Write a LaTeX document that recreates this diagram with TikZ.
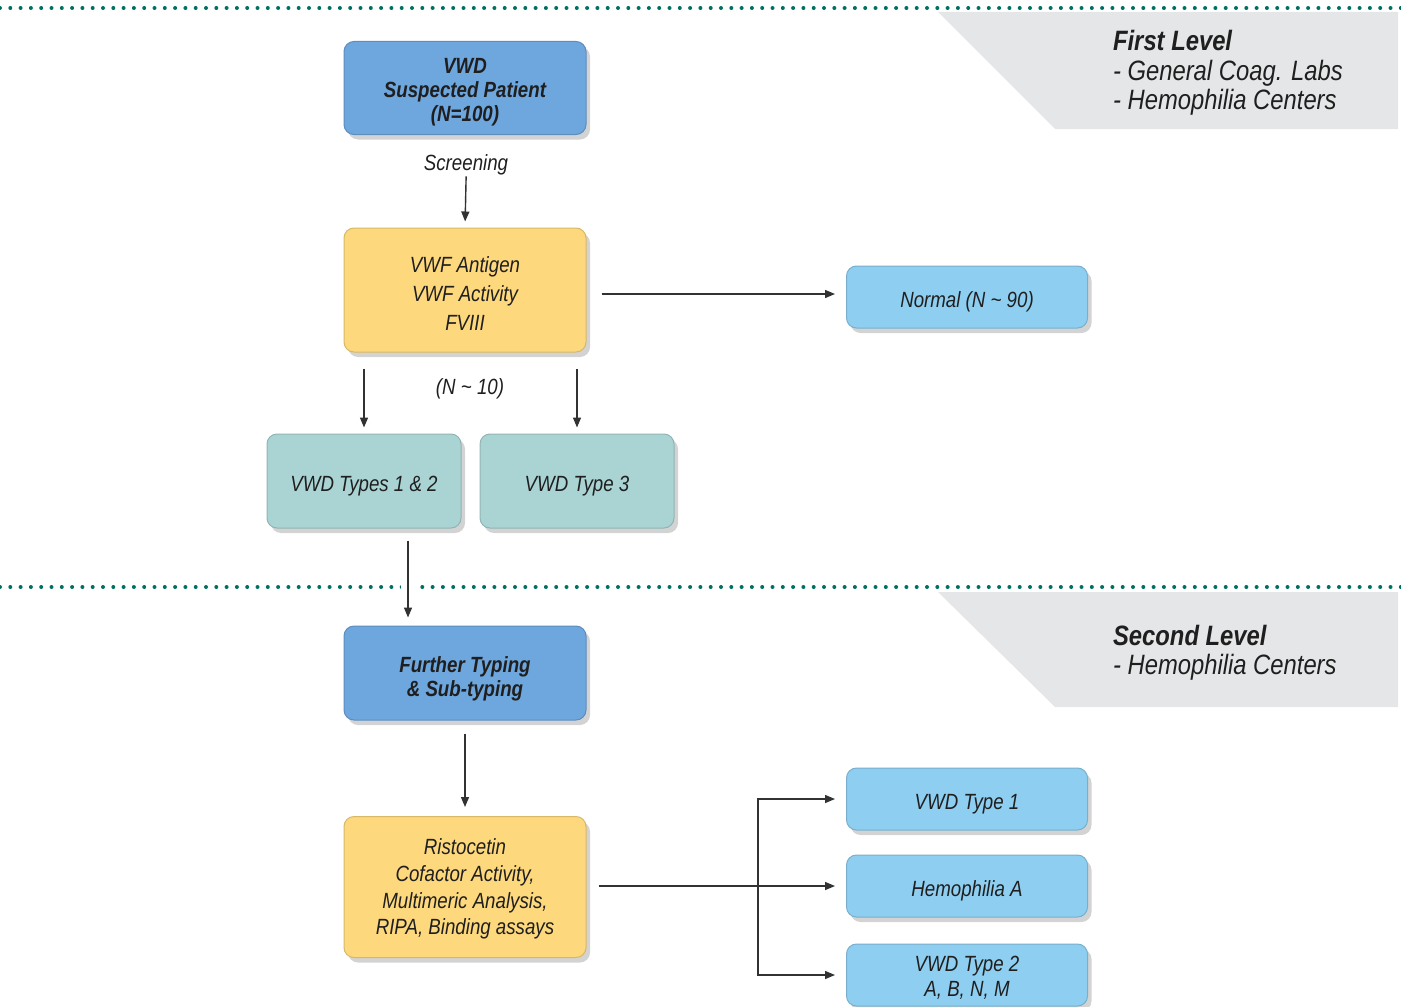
\documentclass[tikz,border=0pt]{standalone}
\usepackage{fontspec}
\setmainfont{Liberation Sans}[FakeStretch=0.85]
\usetikzlibrary{arrows.meta, positioning, shadows, calc}

\definecolor{vwdblue}{RGB}{110,166,222}
\definecolor{vwdgold}{RGB}{253,216,124}
\definecolor{vwdteal}{RGB}{170,212,212}
\definecolor{vwdsky}{RGB}{142,206,240}
\definecolor{bandgray}{RGB}{229,230,231}
\definecolor{dotgreen}{RGB}{0,112,98}
\definecolor{linegray}{RGB}{50,50,50}

% invisible strut to push box text a little lower
\newcommand\boxlift[1]{\rule{0pt}{#1}}

\begin{document}
\begin{tikzpicture}[x=0.5pt, y=-0.5pt, >={Triangle[length=5pt,width=4pt]},
    font=\fontsize{11}{12.5}\selectfont\itshape, every node/.style={align=center, text=black!88},
    box/.style={rounded corners=5pt, inner sep=0pt, line width=0.5pt,
        drop shadow={shadow xshift=2pt, shadow yshift=-2.5pt, opacity=0.35}},
    oneline/.style={text height=12.8pt, text depth=2.3pt},
    bluebox/.style={box, fill=vwdblue, draw=vwdblue!85!black, minimum width=121pt,
        font=\fontsize{11}{12}\selectfont\bfseries\itshape},
    goldbox/.style={box, fill=vwdgold, draw=vwdgold!85!black, minimum width=121pt},
    tealbox/.style={box, oneline, fill=vwdteal, draw=vwdteal!85!black, minimum width=97pt, minimum height=47pt},
    skybase/.style={box, fill=vwdsky, draw=vwdsky!85!black, minimum width=120.5pt, minimum height=31pt},
    skybox/.style={skybase, oneline},
    level/.style={align=left, anchor=west, font=\fontsize{14}{14.75}\selectfont\itshape},
    dotline/.style={draw=dotgreen, line width=2pt, line cap=round, dash pattern=on 0pt off 5.15pt},
    link/.style={->, draw=linegray, line width=0.7pt}]
    \useasboundingbox (0,0) rectangle (1401,1006);

    % level bands
    \fill[bandgray] (938,12) -- (1398,12) -- (1398,129) -- (1055,129) -- cycle;
    \fill[bandgray] (938,592) -- (1398,592) -- (1398,707) -- (1055,707) -- cycle;
    \draw[dotline] (0,8) -- (1401,8);
    \draw[dotline] (0,587) -- (1401,587);
    \node[level] (lvl1) at (1106,73) {\textbf{First Level}\\- General Coag. Labs\\- Hemophilia Centers};
    \node[level] (lvl2) at (1106,653) {\textbf{Second Level}\\- Hemophilia Centers};

    % first level
    \node[bluebox, minimum height=46.5pt] (patient) at (465,88) {\boxlift{12pt}VWD\\Suspected Patient\\(N=100)};
    \node (screen) at (466,165) {Screening};
    \node[goldbox, minimum height=62pt, font=\fontsize{11}{14.5}\selectfont\itshape] (vwf) at (465,290) {\boxlift{11pt}VWF Antigen\\VWF Activity\\FVIII};
    \node[skybox] (normal) at (967,297) {Normal (N \textasciitilde\ 90)};
    \coordinate (normalin) at ([yshift=1.5pt]normal.west);
    \node (nten) at (470,389) {(N \textasciitilde\ 10)};
    \node[tealbox] (t12) at (364,481) {VWD Types 1 \& 2};
    \node[tealbox, right=9pt of t12] (t3) {VWD Type 3};

    \draw[link, shorten <=-3pt, shorten >=3pt] (screen.south) -- (vwf.north);
    \draw[link, shorten <=7.5pt, shorten >=5.5pt] (vwf.east |- normalin) -- (normalin);
    \draw[link, shorten <=8pt, shorten >=3pt] (vwf.south -| t12) -- (t12.north);
    \draw[link, shorten <=8pt, shorten >=3pt] (vwf.south -| t3) -- (t3.north);

    % second level
    \node[bluebox, minimum height=47pt] (further) at (465,673) {\boxlift{14pt}Further Typing\\\& Sub-typing};
    \node[goldbox, minimum height=70.5pt, font=\fontsize{11}{13.3}\selectfont\itshape] (assay) at (465,887) {\boxlift{10pt}Ristocetin\\Cofactor Activity,\\Multimeric Analysis,\\RIPA, Binding assays};
    \node[skybox] (hemA) at (967,886) {Hemophilia A};
    \node[skybox, above=12pt of hemA] (type1) {VWD Type 1};
    \node[skybase, below=13pt of hemA] (type2) {\boxlift{10pt}VWD Type 2\\A, B, N, M};
    \coordinate (split) at (758,886);

    \draw[link, shorten <=6pt, shorten >=4pt, preaction={draw=white, line width=7pt, shorten <=20pt, shorten >=10pt}]
        ([xshift=22pt]t12.south) -- ([xshift=22pt]t12.south |- further.north);
    \draw[link, shorten <=6.5pt, shorten >=4.5pt] (further) -- (assay);
    \draw[link, shorten <=6pt, shorten >=5.5pt] (assay.east |- hemA) -- (hemA.west);
    \draw[link, shorten >=5.5pt] (split) |- (type1.west);
    \draw[link, shorten >=5.5pt] (split) |- (type2.west);
\end{tikzpicture}
\end{document}
